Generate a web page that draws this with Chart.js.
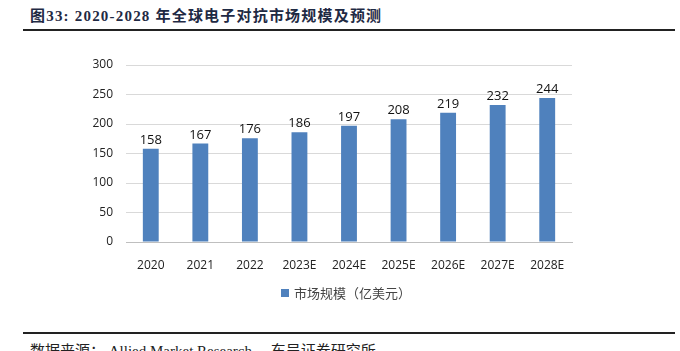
<!DOCTYPE html>
<html>
<head>
<meta charset="utf-8">
<script src="https://cdn.jsdelivr.net/npm/chart.js@4"></script>
<style>
  body { margin: 0; width: 680px; height: 351px; overflow: hidden; background: #fff; position: relative; }
  .titulo { position: absolute; left: 30px; top: 4px; font: bold 15px "Liberation Serif", "Noto Sans CJK SC", serif; color: #1f2a44; letter-spacing: 1.2px; white-space: nowrap; }
  .regua { position: absolute; left: 23px; width: 652px; height: 2px; background: #222; }
  .fonte { position: absolute; left: 30px; top: 339px; font: 15px "Liberation Serif", "Noto Sans CJK SC", serif; color: #222; white-space: nowrap; }
  #grafico-box { position: absolute; left: 0; top: 40px; width: 680px; height: 250px; }
  .legenda { position: absolute; left: 0; width: 692px; top: 283px; text-align: center; font: 13px "Noto Sans CJK SC", sans-serif; color: #444; }
  .legenda i { display: inline-block; width: 8px; height: 8px; margin-right: 5px; vertical-align: 1px; }
</style>
</head>
<body>
<div class="titulo">图33: 2020-2028 年全球电子对抗市场规模及预测</div>
<div class="regua" style="top:29px"></div>
<div id="grafico-box"><canvas id="grafico"></canvas></div>
<div class="legenda" id="legenda"></div>
<div class="regua" style="top:332px"></div>
<div class="fonte">数据来源： Allied Market Research， 东吴证券研究所</div>
<script>
// dados
const anos = ['2020', '2021', '2022', '2023E', '2024E', '2025E', '2026E', '2027E', '2028E'];
const mercado = [158, 167, 176, 186, 197, 208, 219, 232, 244];
const serieNome = '市场规模（亿美元）';
const ticksY = [0, 50, 100, 150, 200, 250, 300];
const corBarra = '#4f81bd';

// rótulos de valor acima das barras
const rotulos = {
  id: 'rotulos',
  afterDatasetsDraw(chart) {
    const ctx = chart.ctx;
    const meta = chart.getDatasetMeta(0);
    ctx.save();
    ctx.font = '13px "Open Sans", "Liberation Sans", sans-serif';
    ctx.fillStyle = '#111';
    ctx.textAlign = 'center';
    ctx.textBaseline = 'bottom';
    meta.data.forEach((bar, i) => {
      ctx.fillText(String(mercado[i]), bar.x, bar.y - 2);
    });
    ctx.restore();
  }
};

const grafico = new Chart(document.getElementById('grafico'), {
  type: 'bar',
  data: {
    labels: anos,
    datasets: [{
      label: serieNome,
      data: mercado,
      backgroundColor: corBarra,
      borderWidth: 0,
      categoryPercentage: 1,
      barPercentage: 0.32
    }]
  },
  options: {
    responsive: true,
    maintainAspectRatio: false,
    animation: false,
    layout: { padding: { top: 25, right: 108, bottom: 12, left: 0 } },
    scales: {
      y: {
        min: 0,
        max: 300,
        afterBuildTicks: (scale) => { scale.ticks = ticksY.map(v => ({ value: v })); },
        afterFit: (scale) => { scale.width = 126; },
        grid: { color: '#d9d9d9', drawTicks: false },
        border: { display: false },
        ticks: { color: '#222', padding: 13, font: { size: 12, family: '"Open Sans", "Liberation Sans", sans-serif' } }
      },
      x: {
        afterFit: (scale) => { scale.height = 36; },
        grid: { display: false },
        border: { color: '#bfbfbf' },
        ticks: { color: '#222', padding: 8, font: { size: 12, family: '"Open Sans", "Liberation Sans", sans-serif' } }
      }
    },
    plugins: {
      legend: { display: false }, // legenda feita em HTML, centrada na área do gráfico
      tooltip: { enabled: false }
    }
  },
  plugins: [rotulos]
});

// legenda HTML a partir do dataset
const ds = grafico.data.datasets[0];
document.getElementById('legenda').innerHTML =
  '<i style="background:' + ds.backgroundColor + '"></i>' + ds.label;
</script>
</body>
</html>
